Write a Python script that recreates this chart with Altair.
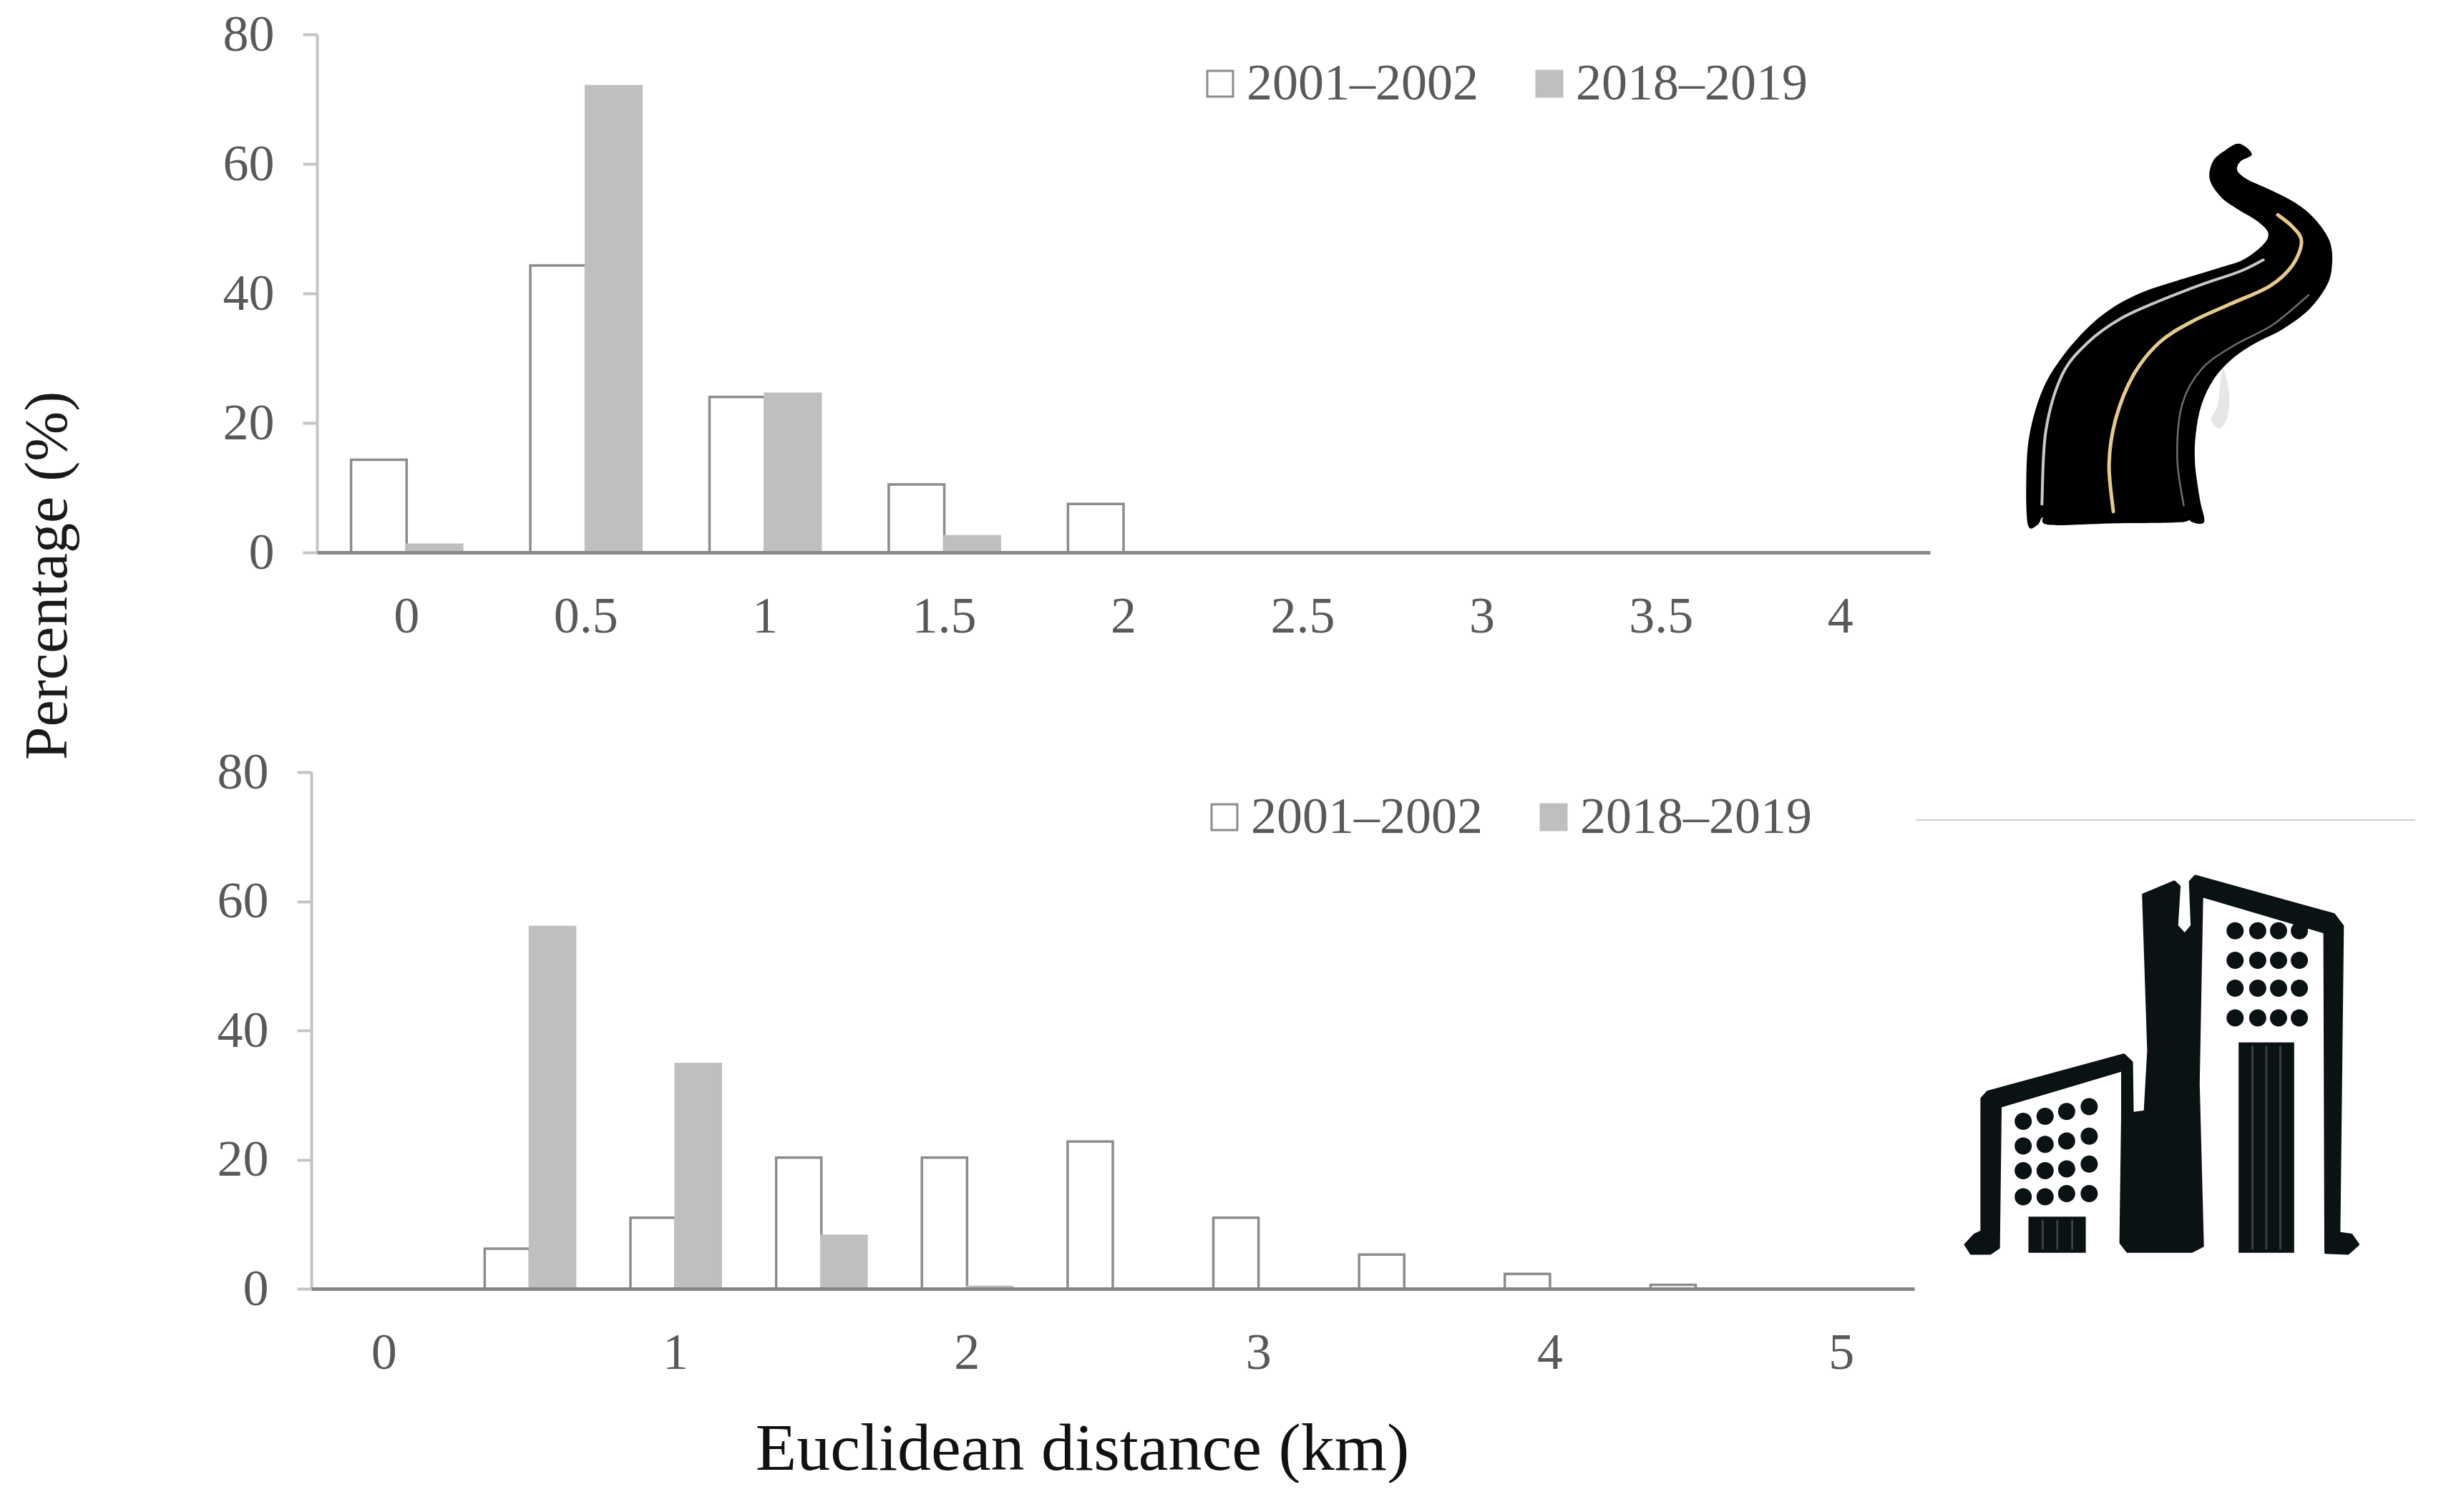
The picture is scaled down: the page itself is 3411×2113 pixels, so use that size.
import altair as alt
import pandas as pd

# values
labels_top = ['0', '0.5', '1', '1.5', '2', '2.5', '3', '3.5', '4']
early_top = [14.3, 44.3, 24, 10.5, 7.5, 0, 0, 0, 0]
late_top = [1.2, 72, 24.5, 2.5, 0, 0, 0, 0, 0]

labels_bottom = ['0', '0.5', '1', '1.5', '2', '2.5', '3', '3.5', '4', '4.5', '5']
bottom_ticks = ['0', '1', '2', '3', '4', '5']
early_bottom = [0, 6.2, 11, 20.3, 20.3, 22.8, 11, 5.3, 2.3, 0.6, 0]
late_bottom = [0, 56, 34.8, 8.2, 0.3, 0, 0, 0, 0, 0, 0]

periods = ['2001–2002', '2018–2019']

FONT = 'Liberation Serif'
GREY = '#595959'
ORIGIN_X = 435
TOP_Y = 47
BOTTOM_Y = 1078


def tidy(labels, early, late):
    rows = []
    for lab, a, b in zip(labels, early, late):
        rows.append({'bin': lab, 'period': periods[0], 'pct': a})
        rows.append({'bin': lab, 'period': periods[1], 'pct': b})
    return pd.DataFrame(rows)


def smooth(points, closed=True):
    # catmull-rom through the traced points, gives svg path text
    n = len(points)
    d = 'M%.1f %.1f' % points[0]
    last = n if closed else n - 1
    for i in range(last):
        if closed:
            p0, p1, p2, p3 = points[i - 1], points[i], points[(i + 1) % n], points[(i + 2) % n]
        else:
            p0, p1, p2, p3 = points[max(i - 1, 0)], points[i], points[i + 1], points[min(i + 2, n - 1)]
        d += 'C%.1f %.1f %.1f %.1f %.1f %.1f' % (
            p1[0] + (p2[0] - p0[0]) / 6, p1[1] + (p2[1] - p0[1]) / 6,
            p2[0] - (p3[0] - p1[0]) / 6, p2[1] - (p3[1] - p1[1]) / 6,
            p2[0], p2[1])
    return d + ('Z' if closed else '')


def road(pts):
    return [(2700 + x / 2.205, 150 + y / 2.412) for x, y in pts]


def bld(pts):
    return [(2650 + x / 2.06, 1100 + y / 2.178) for x, y in pts]


def poly(points):
    return 'M' + 'L'.join('%.1f %.1f' % p for p in points) + 'Z'


def dots(pts, r):
    d = ''
    for x, y in bld(pts):
        d += 'M%.1f %.1fa%.1f %.1f 0 1 0 %.1f 0a%.1f %.1f 0 1 0 %.1f 0Z' % (x - r, y, r, r, 2 * r, r, r, -2 * r)
    return d


road_body = smooth(road([
    (295, 1405), (290, 1250), (300, 1100), (340, 950), (400, 840), (480, 740), (560, 670), (650, 620),
    (760, 580), (880, 540), (960, 510), (1020, 460), (1035, 420), (1000, 380), (940, 340), (890, 300),
    (855, 240), (865, 180), (900, 145), (945, 120), (985, 155), (950, 180), (940, 210), (970, 240),
    (1040, 275), (1120, 320), (1180, 375), (1225, 450), (1232, 530), (1215, 600), (1160, 680), (1080, 745),
    (1000, 790), (930, 840), (870, 910), (830, 1000), (812, 1100), (810, 1200), (825, 1320), (838, 1395),
    (800, 1395), (780, 1370), (775, 1395), (550, 1400), (360, 1405), (340, 1380), (325, 1405)]))
road_left = smooth(road([
    (338, 1335), (350, 1090), (400, 900), (480, 790), (580, 710), (700, 650), (830, 595), (950, 550), (1020, 512)]),
    closed=False)
road_mid = smooth(road([
    (558, 1360), (545, 1200), (565, 1050), (620, 900), (700, 790), (800, 720), (920, 660), (1040, 600),
    (1110, 530), (1138, 450), (1110, 400), (1065, 360)]), closed=False)
road_right = smooth(road([
    (775, 1340), (755, 1180), (770, 1000), (830, 880), (930, 800), (1050, 730), (1160, 630)]), closed=False)
road_smudge = smooth(road([
    (895, 880), (915, 960), (910, 1040), (885, 1080), (860, 1050), (880, 1000)]))

tower = poly(bld([
    (710, 325), (800, 285), (815, 300), (808, 420), (830, 445), (850, 420), (845, 285), (860, 268),
    (1260, 385), (1285, 420), (1275, 1355), (1310, 1360), (1330, 1390), (1300, 1418), (1235, 1415),
    (1232, 440), (880, 330), (870, 900), (882, 1395), (850, 1412), (665, 1412), (645, 1385), (650, 1000),
    (680, 990), (715, 985), (725, 800)]))
low_block = poly(bld([
    (245, 945), (262, 925), (655, 812), (678, 835), (680, 990), (650, 1020), (650, 860), (300, 970),
    (295, 1400), (270, 1418), (215, 1418), (198, 1390), (225, 1360), (245, 1350)]))
right_dots = dots([(x, y) for x in (975, 1040, 1100, 1160) for y in (435, 525, 610, 700)], 12)
left_dots = dots([(365, 1015), (365, 1090), (365, 1165), (365, 1245),
                  (428, 1000), (428, 1085), (428, 1165), (428, 1245),
                  (490, 985), (490, 1075), (490, 1160), (490, 1235),
                  (555, 970), (555, 1060), (555, 1145), (555, 1235)], 12)
doors = poly(bld([(985, 775), (1145, 775), (1145, 1415), (985, 1415)])) + \
    poly(bld([(380, 1305), (545, 1305), (545, 1415), (380, 1415)]))
door_lines = ''.join(poly(bld([(x, y0), (x + 6, y0), (x + 6, y1), (x, y1)]))
                     for x, y0, y1 in [(1022, 785, 1405), (1062, 785, 1405), (1102, 785, 1405),
                                       (418, 1315, 1405), (460, 1315, 1405), (503, 1315, 1405)])
one = pd.DataFrame({'i': [0]})


def icon(path, origin_y, fill=None, stroke=None, width=0):
    # shape text is in page pixels: size 4 makes one path unit one pixel
    props = {'shape': path, 'size': 4, 'opacity': 1, 'strokeJoin': 'round', 'strokeCap': 'round'}
    if fill:
        props.update(filled=True, fill=fill)
    else:
        props.update(filled=False, fill='transparent')
    if stroke:
        props.update(stroke=stroke, strokeWidth=width)
    else:
        props.update(strokeWidth=0)
    return alt.Chart(one).mark_point(**props).encode(x=alt.value(-ORIGIN_X), y=alt.value(-origin_y))


def panel(df, labels, width, height, legend_x, legend_y, x_axis, y_axis, x_range=None):
    legend = alt.Legend(orient='none', legendX=legend_x, legendY=legend_y, direction='horizontal', columns=2,
                        title=None, symbolType='square', symbolSize=1296, symbolStrokeWidth=3,
                        labelFont=FONT, labelFontSize=72, labelColor=GREY, labelOffset=1, labelLimit=600,
                        columnPadding=63, padding=0)
    x_scale = dict(domain=labels, paddingInner=0.38, paddingOuter=0.19)
    if x_range:
        x_scale['range'] = x_range
    return alt.Chart(df).mark_bar(strokeWidth=3.5).encode(
        x=alt.X('bin:N', scale=alt.Scale(**x_scale), axis=x_axis),
        xOffset=alt.XOffset('period:N', scale=alt.Scale(domain=periods)),
        y=alt.Y('pct:Q', scale=alt.Scale(domain=[0, 80]), axis=y_axis),
        fill=alt.Fill('period:N', scale=alt.Scale(domain=periods, range=['#ffffff', '#bfbfbf']), legend=legend),
        stroke=alt.Stroke('period:N', scale=alt.Scale(domain=periods, range=['#8c8c8c', '#bfbfbf']), legend=legend),
    ).properties(width=width, height=height)


def y_axis(**kw):
    return alt.Axis(values=[0, 20, 40, 60, 80], grid=False, tickSize=20, tickWidth=4, tickColor='#c4c4c4',
                    domainColor='#c4c4c4', domainWidth=4, labelFont=FONT, labelFontSize=72, labelColor=GREY,
                    labelPadding=40, **kw)


def x_axis(**kw):
    return alt.Axis(ticks=False, labelAngle=0, labelFont=FONT, labelFontSize=72, labelColor=GREY,
                    labelPadding=54, domainColor='#888888', domainWidth=5, labelOverlap=False, zindex=1, **kw)


top_bars = panel(
    tidy(labels_top, early_top, late_top), labels_top, 2262, 724, 1234, 33,
    x_axis(title=None),
    y_axis(offset=-8, title='Percentage (%)', titleFont=FONT, titleFontSize=84, titleFontWeight='normal',
           titleColor='#1a1a1a', titleX=-333, titleY=756),
    x_range=[8, 2262])

bottom_bars = panel(
    tidy(labels_bottom, early_bottom, late_bottom), labels_bottom, 2240, 722, 1240, 27,
    x_axis(title='Euclidean distance (km)', values=bottom_ticks, titleFont=FONT, titleFontSize=94,
           titleFontWeight='normal', titleColor='#111111', titleX=1077, titleY=224, titleBaseline='middle'),
    y_axis(title=None))

divider = alt.Chart(one).mark_rule(color='#cfcfcf', strokeWidth=2).encode(
    x=alt.value(2677 - ORIGIN_X), x2=alt.value(3375 - ORIGIN_X),
    y=alt.value(1145 - BOTTOM_Y))

top = alt.layer(
    top_bars,
    icon(road_smudge, TOP_Y, fill='#e6e6e6'),
    icon(road_body, TOP_Y, fill='#000000'),
    icon(road_left, TOP_Y, stroke='#c8c8c8', width=4),
    icon(road_mid, TOP_Y, stroke='#e6c98e', width=5),
    icon(road_right, TOP_Y, stroke='#6e6e6e', width=2.5),
)

bottom = alt.layer(
    bottom_bars,
    divider,
    icon(tower, BOTTOM_Y, fill='#0a1214', stroke='#0a1214', width=3),
    icon(low_block, BOTTOM_Y, fill='#0a1214', stroke='#0a1214', width=3),
    icon(right_dots + left_dots, BOTTOM_Y, fill='#0a1214'),
    icon(doors, BOTTOM_Y, fill='#0a1214'),
    icon(door_lines, BOTTOM_Y, fill='#3a4244'),
)

chart = alt.vconcat(top, bottom, spacing=307, bounds='flush').resolve_scale(
    fill='independent', stroke='independent', x='independent', xOffset='independent'
).resolve_legend(fill='independent', stroke='independent').properties(
    padding={'left': 17, 'top': 4, 'right': 0, 'bottom': 0}
).configure_view(stroke=None)

chart.save('out.html', embed_options={'renderer': 'svg', 'actions': False})
